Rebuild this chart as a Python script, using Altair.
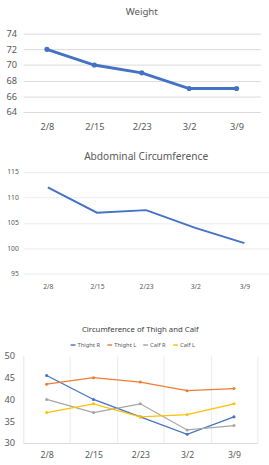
import altair as alt
import pandas as pd

dates = ["2/8", "2/15", "2/23", "3/2", "3/9"]
weight = [72, 70, 69, 67, 67]
abdominal = [112, 107, 107.5, 104, 101]
series_names = ["Thight R", "Thight L", "Calf R", "Calf L"]
thigh_r = [45.5, 40, 36, 32, 36]
thigh_l = [43.5, 45, 44, 42, 42.5]
calf_r = [40, 37, 39, 33, 34]
calf_l = [37, 39, 36, 36.5, 39]
colors = ["#4472C4", "#ED7D31", "#A5A5A5", "#FFC000"]

FONT = "Noto Sans"
GRAY = "#595959"
GRID = "#D9D9D9"

df_w = pd.DataFrame({"date": dates, "value": weight})
df_a = pd.DataFrame({"date": dates, "value": abdominal})
rows = []
for name, vals in zip(series_names, [thigh_r, thigh_l, calf_r, calf_l]):
    for d, v in zip(dates, vals):
        rows.append({"date": d, "series": name, "value": v})
df_c = pd.DataFrame(rows)

# Chart 1: Weight
x1 = alt.X("date:N", sort=dates, title=None,
           scale=alt.Scale(type="point", padding=0.5),
           axis=alt.Axis(labelAngle=0, domain=False, ticks=False, grid=False,
                         labelFontSize=9.5, labelColor=GRAY, labelFont=FONT, labelPadding=10,
                         minExtent=23, maxExtent=23))
y1 = alt.Y("value:Q", title=None,
           scale=alt.Scale(domain=[64, 74], nice=False, zero=False),
           axis=alt.Axis(values=[64, 66, 68, 70, 72, 74], domain=False, ticks=False,
                         gridColor=GRID, labelFontSize=9.5, labelColor=GRAY, labelFont=FONT,
                         labelPadding=7, minExtent=24, maxExtent=24))
c1 = alt.Chart(df_w).mark_line(
    color="#4472C4", strokeWidth=3,
    point=alt.OverlayMarkDef(color="#4472C4", size=28, filled=True, opacity=1)
).encode(x=x1, y=y1).properties(
    width=245, height=81,
    title=alt.TitleParams("Weight", fontSize=10, font=FONT, color=GRAY,
                          fontWeight="normal", offset=12, anchor="middle"))

# Chart 2: Abdominal Circumference
x2 = alt.X("date:N", sort=dates, title=None,
           scale=alt.Scale(type="point", padding=0.5),
           axis=alt.Axis(labelAngle=0, domain=False, ticks=False, grid=False,
                         labelFontSize=7, labelColor=GRAY, labelFont=FONT, labelPadding=9,
                         minExtent=36, maxExtent=36))
y2 = alt.Y("value:Q", title=None,
           scale=alt.Scale(domain=[95, 115], nice=False, zero=False),
           axis=alt.Axis(values=[95, 100, 105, 110, 115], domain=False, ticks=False,
                         gridColor="#EBEBEB", labelFontSize=7, labelColor=GRAY, labelFont=FONT,
                         labelPadding=5, minExtent=15, maxExtent=15))
c2 = alt.Chart(df_a).mark_line(color="#4472C4", strokeWidth=2).encode(
    x=x2, y=y2).properties(
    width=254, height=105,
    title=alt.TitleParams("Abdominal Circumference", fontSize=10.5, font=FONT, color=GRAY,
                          fontWeight="normal", offset=6, anchor="middle"))

# Chart 3: Circumference of Thigh and Calf
x3 = alt.X("date:N", sort=dates, title=None,
           scale=alt.Scale(type="band", paddingInner=0, paddingOuter=0),
           axis=alt.Axis(labelAngle=0, domain=True, domainColor=GRID, ticks=False,
                         grid=True, gridColor="#EBEBEB", tickBand="extent",
                         labelFontSize=9, labelColor=GRAY, labelFont=FONT, labelPadding=8))
y3 = alt.Y("value:Q", title=None,
           scale=alt.Scale(domain=[30, 50], nice=False, zero=False),
           axis=alt.Axis(values=[30, 35, 40, 45, 50], domain=True, domainColor="#EBEBEB",
                         ticks=False, grid=False,
                         labelFontSize=9.5, labelColor=GRAY, labelFont=FONT,
                         labelPadding=9, minExtent=22, maxExtent=22))
color3 = alt.Color("series:N", sort=series_names, title=None,
                   scale=alt.Scale(domain=series_names, range=colors),
                   legend=alt.Legend(orient="none", direction="horizontal",
                                     legendX=48, legendY=-15,
                                     labelFontSize=6, labelColor=GRAY, labelFont=FONT,
                                     labelOffset=1,
                                     symbolType="stroke", symbolSize=25, symbolStrokeWidth=1.5,
                                     columnPadding=4, padding=0))
c3 = alt.Chart(df_c).mark_line(
    strokeWidth=1.3,
    point=alt.OverlayMarkDef(size=10, filled=True, opacity=1)
).encode(x=x3, y=y3, color=color3).properties(
    width=242, height=90,
    title=alt.TitleParams("Circumference of Thigh and Calf", fontSize=8, font=FONT, color="#404040",
                          fontWeight="normal", offset=8, anchor="middle"))

chart = alt.concat(c1, c2, c3, columns=1, spacing=18, align="none").resolve_scale(
    color="independent", x="independent", y="independent"
).resolve_legend(color="independent").properties(
    padding={"top": 0, "left": 0, "right": 0, "bottom": 0},
    background="white"
).configure_view(stroke=None)

chart.save("out.html", embed_options={"renderer": "svg", "actions": False})
